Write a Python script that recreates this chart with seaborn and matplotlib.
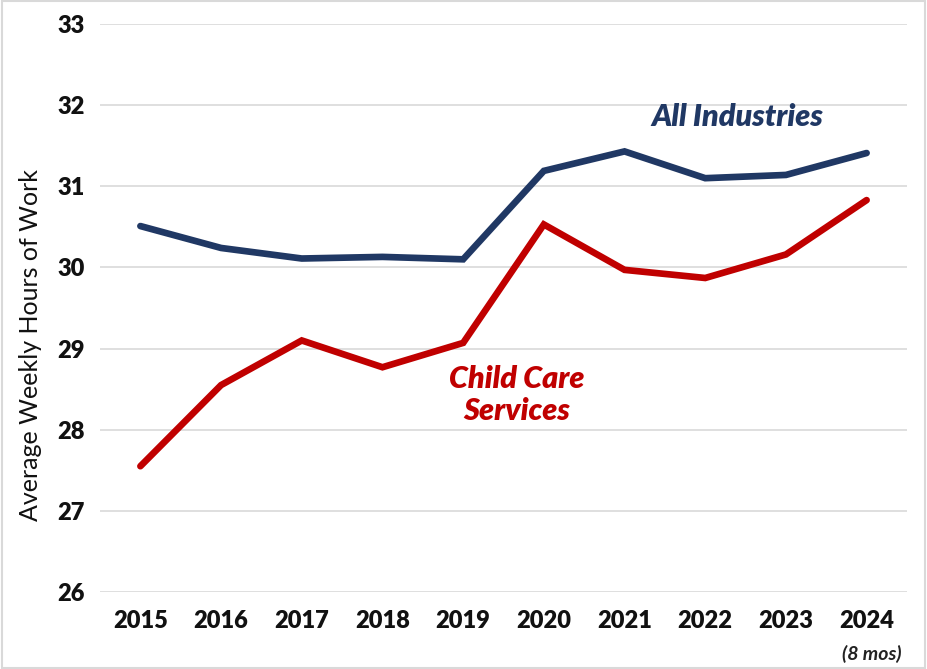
import matplotlib
matplotlib.use("Agg")
import matplotlib.pyplot as plt
import seaborn as sns
import pandas as pd

years = ["2015", "2016", "2017", "2018", "2019", "2020", "2021", "2022", "2023", "2024"]
all_industries = [30.51, 30.24, 30.11, 30.13, 30.10, 31.19, 31.43, 31.10, 31.14, 31.41]
child_care = [27.55, 28.55, 29.10, 28.77, 29.07, 30.53, 29.97, 29.87, 30.16, 30.83]
yticks = [26, 27, 28, 29, 30, 31, 32, 33]

sns.set_theme(style="white")
plt.rcParams['font.family'] = ['Lato', 'DejaVu Sans']

df = pd.DataFrame({
    "Year": years * 2,
    "Hours": all_industries + child_care,
    "Series": ["All Industries"] * len(years) + ["Child Care Services"] * len(years),
})

fig = plt.figure(figsize=(9.27, 6.69), dpi=100)
ax = fig.add_axes([0.1079, 0.1151, 0.8705, 0.849])
palette = {"All Industries": "#203864", "Child Care Services": "#C00000"}
sns.lineplot(data=df, x="Year", y="Hours", hue="Series", palette=palette,
             linewidth=4.8, ax=ax, legend=False, sort=False)
for line in ax.lines:
    line.set_solid_capstyle("round")
    line.set_solid_joinstyle("miter")

ax.set_xlim(-0.5, len(years) - 0.5)
ax.set_ylim(26, 33)
ax.set_yticks(yticks)
ax.set_yticklabels([str(t) for t in yticks], fontsize=17, fontweight="heavy")
ax.set_xticks(range(len(years)))
ax.set_xticklabels(years, fontsize=17, fontweight="heavy")
ax.tick_params(axis="both", length=0, colors="#111111")
ax.tick_params(axis="y", pad=11)
ax.tick_params(axis="x", pad=13)
ax.grid(axis="y", color="#D9D9D9", linewidth=1.2)
ax.set_axisbelow(True)
for s in ax.spines.values():
    s.set_visible(False)
ax.set_xlabel("")
ax.set_ylabel("Average Weekly Hours of Work", fontsize=18, color="#111111")
ax.yaxis.set_label_coords(-0.072, 0.435)

ax.text(7.40, 31.85, "All Industries", color="#203864", fontsize=22,
        fontweight="heavy", fontstyle="italic", ha="center", va="center")
ax.text(4.67, 28.43, "Child Care\nServices", color="#C00000", fontsize=22,
        fontweight="heavy", fontstyle="italic", ha="center", va="center", linespacing=1.2)
ax.text(9.06, 25.24, "(8 mos)", fontsize=14, fontweight="bold", fontstyle="italic",
        ha="center", va="center", color="#222222")

fig.patches.append(plt.Rectangle((0.002, 0.002), 0.996, 0.996, transform=fig.transFigure,
                                 fill=False, edgecolor="#D9D9D9", linewidth=1.5))
fig.savefig("out.png", dpi=100, facecolor="white")
